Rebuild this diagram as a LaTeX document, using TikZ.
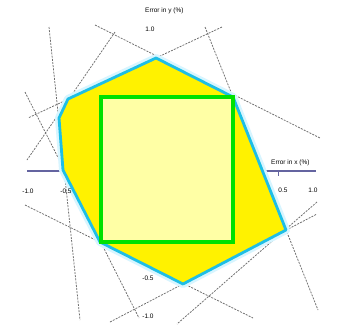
\documentclass[tikz,border=0pt]{standalone}
\usepackage{fontspec}
\setmainfont{Liberation Sans}
\definecolor{hullcyan}{RGB}{30,190,230}
\definecolor{boxgreen}{RGB}{0,225,0}
\definecolor{axiscol}{RGB}{100,100,160}
\definecolor{glowcol}{RGB}{215,245,255}
\definecolor{boxyellow}{RGB}{255,255,165}
\begin{document}
\begin{tikzpicture}[x=1pt,y=-1pt,
  cutline/.style={draw=gray!85!black,line width=0.75pt,dash pattern=on 2pt off 1.2pt},
  axisline/.style={draw=axiscol,line width=1.3pt},
  lbl/.style={font=\fontsize{6.5}{7.5}\selectfont,inner sep=0pt,text=black},
  hullglow/.style={draw=glowcol,line width=8pt,line join=round},
  hullfill/.style={fill=yellow,draw=hullcyan,line width=2.8pt,line join=round},
  boxfill/.style={fill=boxyellow,draw=boxgreen,line width=3.4pt}]
\useasboundingbox (0,0) rectangle (338,325);
\fill[white] (0,0) rectangle (338,325);
% axis
\coordinate (axl) at (27,171);
\coordinate (axr) at (316,171);
\draw[axisline] (axl) -- (axr);
\coordinate (t1) at (278,171); \coordinate (t1b) at (278,176);
\draw[axisline,line width=0.8pt] (t1) -- (t1b);
% constraint lines
\coordinate (a1) at (49,27);   \coordinate (b1) at (80,320);
\coordinate (a2) at (95,25);   \coordinate (b2) at (320,138);
\coordinate (a3) at (115,32);  \coordinate (b3) at (27,160);
\coordinate (a4) at (222,27);  \coordinate (b4) at (28,118);
\coordinate (a5) at (25,92);   \coordinate (b5) at (139,318);
\coordinate (a6) at (25,205);  \coordinate (b6) at (253,318);
\coordinate (a7) at (110,322); \coordinate (b7) at (317,214);
\coordinate (a8) at (317,202); \coordinate (b8) at (177,324);
\coordinate (a9) at (205,27);  \coordinate (b9) at (318,310);
\foreach \i in {1,...,9} {\draw[cutline] (a\i) -- (b\i);}
% hull
\coordinate (p1) at (156,58);
\coordinate (p2) at (233,97);
\coordinate (p3) at (286,230);
\coordinate (p4) at (183,284);
\coordinate (p5) at (100,242);
\coordinate (p6) at (63,170);
\coordinate (p7) at (59,118);
\coordinate (p8) at (68,99);
\draw[hullglow] (p1)--(p2)--(p3)--(p4)--(p5)--(p6)--(p7)--(p8)--cycle;
\draw[hullfill] (p1)--(p2)--(p3)--(p4)--(p5)--(p6)--(p7)--(p8)--cycle;
% inner box
\coordinate (q1) at (101,97);
\coordinate (q2) at (233,242);
\draw[boxfill] (q1) rectangle (q2);
% labels
\node[lbl,anchor=west] (ylab) at (145,11) {Error in y (\%)};
\node[lbl] (yt1) at (150,29) {1.0};
\node[lbl,anchor=west] (xlab) at (271,163) {Error in x (\%)};
\node[lbl] (xt1) at (28,191) {-1.0};
\node[lbl] (xt2) at (66,191) {-0.5};
\node[lbl] (xt3) at (283,190) {0.5};
\node[lbl] (xt4) at (313,190) {1.0};
\node[lbl] (yt2) at (148,278) {-0.5};
\node[lbl] (yt3) at (148,316) {-1.0};
\end{tikzpicture}
\end{document}
